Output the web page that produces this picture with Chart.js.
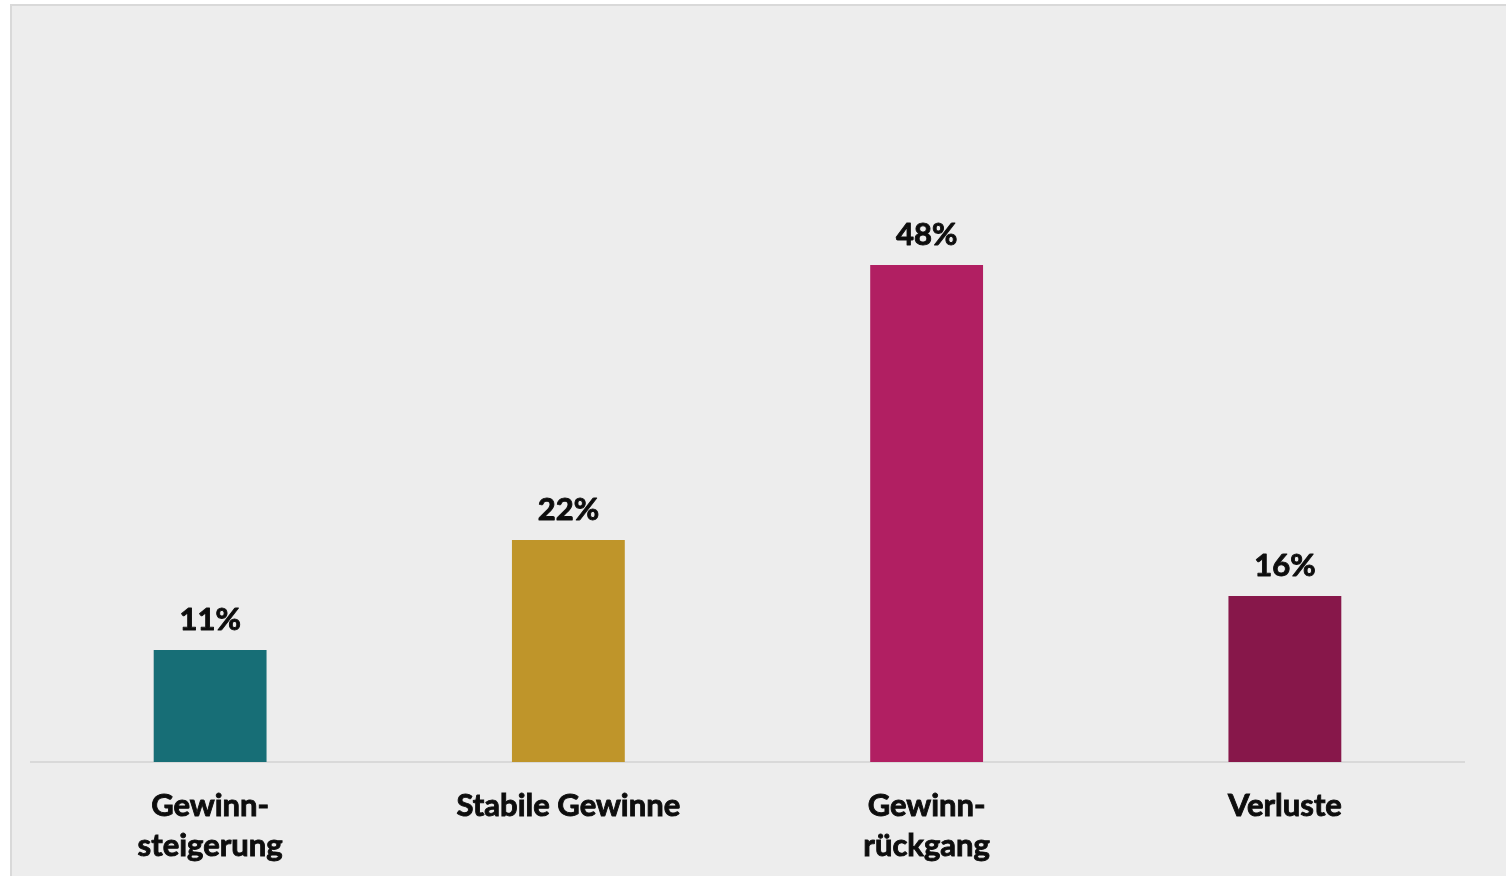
<!DOCTYPE html>
<html>
<head>
<meta charset="utf-8">
<script src="https://cdn.jsdelivr.net/npm/chart.js@4.4.1/dist/chart.umd.min.js"></script>
<style>
  html, body { margin: 0; padding: 0; background: #ffffff; overflow: hidden; }
  #card { position: absolute; left: 10px; top: 4px; width: 1600px; height: 1000px;
          background: #ededed; border: 2px solid #d9d9d9; box-sizing: border-box; }
  #wrap { position: absolute; left: 0; top: 0; width: 1506px; height: 876px; }
</style>
</head>
<body>
<div id="card"></div>
<div id="wrap"><canvas id="c" width="1506" height="876"></canvas></div>
<script>
const categories = [["Gewinn-", "steigerung"], "Stabile Gewinne", ["Gewinn-", "rückgang"], "Verluste"];
const values = [10.87, 21.55, 48.25, 16.12];
const valueLabels = ["11%", "22%", "48%", "16%"];
const barColors = ["#176e76", "#bf952a", "#b11f62", "#87174a"];

const FONT = "Lato, 'Open Sans', sans-serif";
const TEXT = "#0d0d0d";

const valueLabelPlugin = {
  id: 'valueLabels',
  afterDatasetsDraw(chart) {
    const ctx = chart.ctx;
    const meta = chart.getDatasetMeta(0);
    ctx.save();
    ctx.font = "bold 31px " + FONT;
    ctx.fillStyle = TEXT;
    ctx.strokeStyle = TEXT;
    ctx.lineWidth = 0.9;
    ctx.lineJoin = "round";
    ctx.textAlign = "center";
    ctx.textBaseline = "alphabetic";
    meta.data.forEach((bar, i) => {
      ctx.strokeText(valueLabels[i], bar.x, bar.y - 20);
      ctx.fillText(valueLabels[i], bar.x, bar.y - 20);
    });
    ctx.restore();
  }
};

new Chart(document.getElementById('c'), {
  type: 'bar',
  data: {
    labels: categories,
    datasets: [{
      data: values,
      backgroundColor: barColors,
      borderWidth: 0,
      categoryPercentage: 1.0,
      barPercentage: 0.315
    }]
  },
  options: {
    responsive: false,
    animation: false,
    devicePixelRatio: 1,
    layout: { padding: { left: 31, right: 42, top: 144, bottom: 0 } },
    plugins: { legend: { display: false }, tooltip: { enabled: false } },
    scales: {
      x: {
        grid: { display: false },
        border: { display: true, color: "#d9d9d9", width: 2 },
        ticks: {
          color: TEXT,
          textStrokeColor: TEXT,
          textStrokeWidth: 0.9,
          padding: 16,
          maxRotation: 0,
          autoSkip: false,
          font: { family: FONT, size: 31, weight: 'bold', lineHeight: 1.29 }
        },
        afterFit(scale) { scale.height = 114; }
      },
      y: {
        display: false,
        min: 0,
        max: 60
      }
    }
  },
  plugins: [valueLabelPlugin]
});
</script>
</body>
</html>
